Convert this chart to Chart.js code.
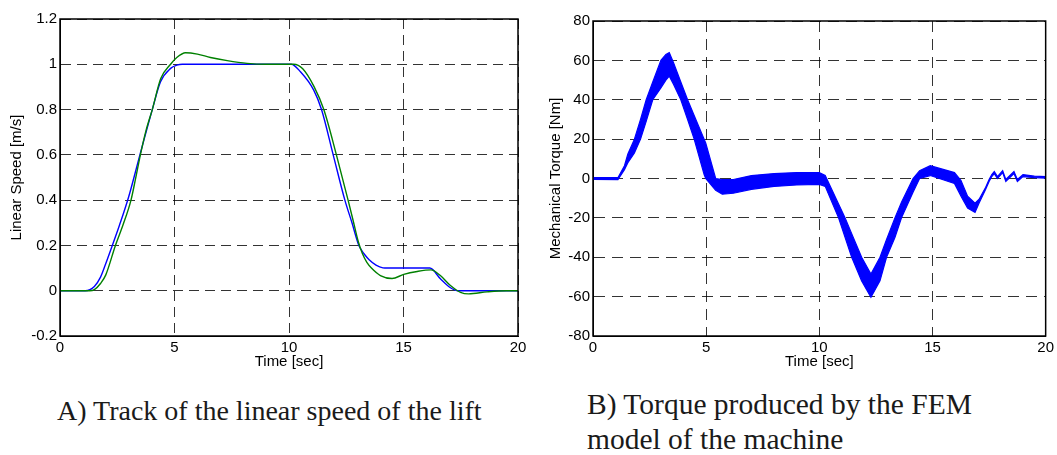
<!DOCTYPE html>
<html><head><meta charset="utf-8">
<script src="https://cdn.jsdelivr.net/npm/chart.js@4.4.0/dist/chart.umd.min.js"></script>
<style>
html,body{margin:0;padding:0;background:#fff;width:1057px;height:455px;overflow:hidden;position:relative;}
.box{position:absolute;}
.cap{position:absolute;font-family:"Liberation Serif","Times New Roman",serif;color:#1a1a1a;white-space:nowrap;line-height:35px;}
</style></head><body>
<div class="box" style="left:0;top:0;width:530px;height:372px"><canvas id="c1"></canvas></div>
<div class="box" style="left:530px;top:0;width:527px;height:372px"><canvas id="c2"></canvas></div>
<div class="cap" style="left:57px;top:393px;font-size:28px">A) Track of the linear speed of the lift</div>
<div class="cap" style="left:587px;top:387px;font-size:29.5px">B) Torque produced by the FEM<br>model of the machine</div>
<script>
// ---- tick labels ----
const xTicks = [0, 5, 10, 15, 20];
const speedTicks = [-0.2, 0, 0.2, 0.4, 0.6, 0.8, 1, 1.2];
const torqueTicks = [-80, -60, -40, -20, 0, 20, 40, 60, 80];

// ---- A) linear speed: reference (blue) ----
const refTime  = [0, 1.1, 1.5, 1.77, 2.0, 2.25, 2.6, 3.0, 3.49, 4.03, 4.39, 4.83, 5.1, 5.34, 10.1, 10.5, 11.08, 11.42, 11.93, 12.44, 12.75, 13.05, 13.15, 13.3, 13.5, 13.8, 14.1, 14.3, 16.15, 16.61, 17.05, 17.35, 20];
const refSpeed = [0, 0, 0.019, 0.06, 0.12, 0.19, 0.29, 0.415, 0.6, 0.8, 0.923, 0.982, 0.996, 1.0, 1.0, 0.967, 0.886, 0.8, 0.6, 0.4, 0.3, 0.2, 0.182, 0.16, 0.137, 0.113, 0.101, 0.1, 0.1, 0.053, 0.013, 0, 0];

// ---- A) linear speed: actual (green) ----
const actTime  = [0, 1.3, 1.5, 1.77, 2.0, 2.42, 2.75, 3.1, 3.3, 3.51, 3.75, 4.03, 4.4, 4.83, 5.1, 5.48, 6.0, 6.57, 7.3, 8.17, 9.0, 10.2, 10.6, 11.1, 11.52, 12.07, 12.58, 12.8, 13.03, 13.2, 13.4, 13.6, 13.99, 14.5, 15.01, 15.6, 16.2, 16.61, 17.05, 17.49, 17.84, 18.65, 19.5, 20];
const actSpeed = [0, 0, 0.005, 0.032, 0.07, 0.2, 0.29, 0.4, 0.495, 0.6, 0.705, 0.8, 0.937, 1.0, 1.03, 1.051, 1.045, 1.03, 1.016, 1.004, 1.0, 1.0, 0.98, 0.9, 0.8, 0.6, 0.4, 0.31, 0.215, 0.165, 0.125, 0.1, 0.067, 0.054, 0.072, 0.085, 0.092, 0.067, 0.023, -0.007, -0.014, -0.005, 0, 0];

// ---- B) mechanical torque: upper / lower envelope of the oscillating trace ----
const torqueTime = [0, 1.1, 1.39, 1.54, 1.83, 2.1, 2.35, 2.64, 3.0, 3.22, 3.37, 3.55, 3.88, 4.18, 4.47, 4.91, 4.98, 5.42, 5.71, 6.2, 7.0, 8.0, 9.0, 10.0, 10.26, 10.85, 11.14, 11.43, 11.87, 12.28, 12.68, 12.97, 13.34, 13.63, 14.14, 14.43, 14.9, 15.97, 16.26, 16.55, 16.88, 17.06, 17.35, 17.5, 17.62, 17.73, 17.87, 18.1, 18.24, 18.6, 18.75, 19.0, 19.5, 20];
const torqueMax  = [0.4, 0.4, 6.5, 12.5, 20, 30, 40, 49, 60, 63, 64, 59, 49, 40, 32, 20, 18, 0, -0.5, -0.5, 1.5, 2.5, 3, 3, 1.5, -13, -20, -28, -40, -48.5, -40, -31, -20, -12, 0, 4, 6.5, 3, -1, -9, -12.5, -10.5, -4.5, -0.5, 2, 3.5, 1, 4, -0.5, 3.5, -0.5, 2, 1.2, 1];
const torqueMin  = [-0.4, -0.6, 4.5, 8, 13, 20, 29, 40, 46, 50, 52, 48, 40, 30, 20, 2, 0, -6, -8, -7.5, -5.5, -4, -3.3, -3, -4, -20, -30, -40, -52, -60.3, -52, -40, -30, -20, -7, 0, 1.5, -2.5, -9, -15, -17.2, -12.5, -5.5, -1.5, 1, 2.5, 0, 3, -1.5, 2.5, -1.5, 1, 0.4, 0.2];

const pts = (xs, ys) => xs.map((x, i) => ({x: x, y: ys[i]}));
const FONT = {family: "'Liberation Sans', Arial, sans-serif", size: 15};
Chart.defaults.color = '#000';

const framePlugin = {
  id: 'frame',
  afterDraw(chart) {
    const {ctx, chartArea: a} = chart;
    ctx.save();
    ctx.strokeStyle = '#000';
    ctx.lineWidth = 1.5;
    ctx.strokeRect(a.left, a.top, a.right - a.left, a.bottom - a.top);
    ctx.restore();
  }
};

function scales(o) {
  return {
    x: {
      type: 'linear', min: 0, max: 20,
      afterBuildTicks: s => { s.ticks = xTicks.map(v => ({value: v})); },
      afterFit: s => { s.height = o.xh; },
      ticks: {autoSkip: false, maxRotation: 0, padding: 3, color: '#000', font: FONT},
      grid: {color: 'rgba(0,0,0,0.8)', lineWidth: 1, drawTicks: false},
      border: {display: true, color: '#000', width: 1, dash: o.dash},
      title: {display: true, text: 'Time [sec]', color: '#000', font: FONT, padding: {top: 0, bottom: 1}}
    },
    y: {
      type: 'linear', min: o.ymin, max: o.ymax,
      afterBuildTicks: s => { s.ticks = o.yt.map(v => ({value: v})); },
      afterFit: s => { s.width = o.yw; },
      ticks: {autoSkip: false, padding: 3, color: '#000', font: FONT,
              callback: v => String(Number(v.toFixed(2)))},
      grid: {color: 'rgba(0,0,0,0.8)', lineWidth: 1, drawTicks: false},
      border: {display: true, color: '#000', width: 1, dash: o.dash},
      title: {display: true, text: o.ytitle, color: '#000', font: FONT, padding: {top: o.tp, bottom: 0}}
    }
  };
}

new Chart(document.getElementById('c1'), {
  type: 'line',
  data: {datasets: [
    {label: 'actual', data: pts(actTime, actSpeed), borderColor: '#008000', borderWidth: 1.4, pointRadius: 0, cubicInterpolationMode: 'monotone', fill: false},
    {label: 'reference', data: pts(refTime, refSpeed), borderColor: '#0000ff', borderWidth: 1.4, pointRadius: 0, cubicInterpolationMode: 'monotone', fill: false}
  ]},
  options: {
    responsive: true, maintainAspectRatio: false, animation: false, devicePixelRatio: 1,
    layout: {padding: {top: 19, right: 12, left: 0, bottom: 0}},
    plugins: {legend: {display: false}, tooltip: {enabled: false}},
    scales: scales({xh: 36, yw: 60, ymin: -0.2, ymax: 1.2, yt: speedTicks, ytitle: 'Linear Speed [m/s]', tp: 8, dash: [10, 6]})
  },
  plugins: [framePlugin]
});

new Chart(document.getElementById('c2'), {
  type: 'line',
  data: {datasets: [
    {label: 'max', data: pts(torqueTime, torqueMax), borderColor: '#0000ff', backgroundColor: '#0000ff', borderWidth: 1.2, pointRadius: 0, tension: 0, fill: '+1'},
    {label: 'min', data: pts(torqueTime, torqueMin), borderColor: '#0000ff', borderWidth: 1.2, pointRadius: 0, tension: 0, fill: false}
  ]},
  options: {
    responsive: true, maintainAspectRatio: false, animation: false, devicePixelRatio: 1,
    layout: {padding: {top: 21, right: 9, left: 0, bottom: 0}},
    plugins: {legend: {display: false}, tooltip: {enabled: false}},
    scales: scales({xh: 36, yw: 63, ymin: -80, ymax: 80, yt: torqueTicks, ytitle: 'Mechanical Torque [Nm]', tp: 17, dash: [11, 7]})
  },
  plugins: [framePlugin]
});
</script>
</body></html>
